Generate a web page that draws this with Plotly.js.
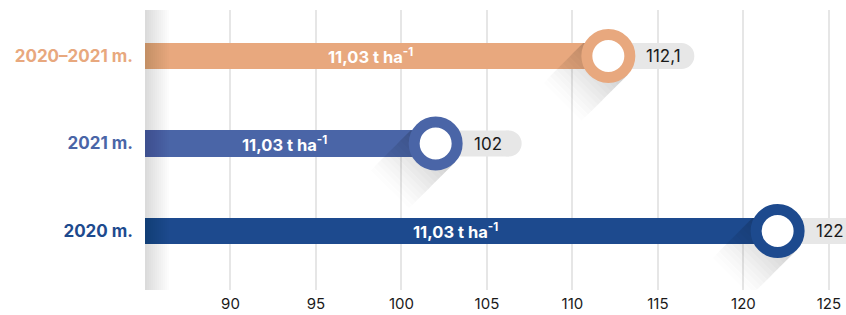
<!DOCTYPE html>
<html>
<head>
<meta charset="utf-8">
<script src="https://cdn.plot.ly/plotly-3.0.1.min.js"></script>
<style>html,body{margin:0;padding:0;background:#fff;}#chart{width:846px;height:315px;}</style>
</head>
<body>
<div id="chart"></div>
<script>
// ---- data ----
const categories = ['2020 m.', '2021 m.', '2020–2021 m.'];
const values = [122, 102, 112.1];
const valueLabels = ['122', '102', '112,1'];
const barLabels = ['11,03 t ha<sup>-1</sup>', '11,03 t ha<sup>-1</sup>', '11,03 t ha<sup>-1</sup>'];
const colors = ['#1D4A8E', '#4A65A7', '#E8A87E'];
const xTickVals = [90, 95, 100, 105, 110, 115, 120, 125];
const xRange = [85, 126];

const FONT = 'Inter, "Open Sans", sans-serif';

const traces = [{
  type: 'bar',
  orientation: 'h',
  y: categories,
  x: values,
  width: 0.3,
  marker: {color: colors},
  hoverinfo: 'skip'
}];

const shapes = [];

// left edge shadow (soft gradient)
for (let k = 1; k <= 12; k++) {
  shapes.push({
    type: 'rect', xref: 'x', yref: 'paper', xsizemode: 'pixel', xanchor: xRange[0],
    x0: 0, x1: k * 2, y0: 0.0, y1: 1.0,
    fillcolor: 'rgba(0,0,0,0.011)', line: {width: 0}, layer: 'above'
  });
}

// clip polygon to y <= lim
function clipTop(poly, lim) {
  const out = [];
  for (let i = 0; i < poly.length; i++) {
    const a = poly[i], b = poly[(i + 1) % poly.length];
    const ain = a[1] <= lim, bin = b[1] <= lim;
    if (ain) out.push(a);
    if (ain !== bin) {
      const t = (lim - a[1]) / (b[1] - a[1]);
      out.push([a[0] + t * (b[0] - a[0]), lim]);
    }
  }
  return out;
}
function pathOf(poly) {
  return 'M ' + poly.map(p => p[0].toFixed(2) + ',' + p[1].toFixed(2)).join(' L ') + ' Z';
}

values.forEach((v, i) => {
  // pill
  shapes.push({type: 'rect', xref: 'x', yref: 'y', xsizemode: 'pixel', ysizemode: 'pixel',
    xanchor: v, yanchor: i, x0: 0, x1: 73, y0: -13, y1: 13,
    fillcolor: '#E7E7E7', line: {width: 0}, layer: 'above'});
  shapes.push({type: 'circle', xref: 'x', yref: 'y', xsizemode: 'pixel', ysizemode: 'pixel',
    xanchor: v, yanchor: i, x0: 60, x1: 86, y0: -13, y1: 13,
    fillcolor: '#E7E7E7', line: {width: 0}, layer: 'above'});
  // long shadow
  const r = 27 / Math.SQRT2;
  const N = 14, L = 46;
  for (let k = 0; k < N; k++) {
    const a = L * k / N, b = L * (k + 1) / N;
    let poly = [[r - a, -r - a], [-r - a, r - a], [-r - b, r - b], [r - b, -r - b]];
    poly = clipTop(poly, 13);
    if (poly.length < 3) continue;
    shapes.push({type: 'path', xref: 'x', yref: 'y', xsizemode: 'pixel', ysizemode: 'pixel',
      xanchor: v, yanchor: i, path: pathOf(poly),
      fillcolor: 'rgba(0,0,0,' + (0.2 * Math.pow(1 - k / N, 1.3)).toFixed(3) + ')', line: {width: 0}, layer: 'above'});
  }
  // ring
  shapes.push({type: 'circle', xref: 'x', yref: 'y', xsizemode: 'pixel', ysizemode: 'pixel',
    xanchor: v, yanchor: i, x0: -21.5, x1: 21.5, y0: -21.5, y1: 21.5,
    fillcolor: '#FFFFFF', line: {width: 11, color: colors[i]}, layer: 'above'});
});

const annotations = [];
values.forEach((v, i) => {
  annotations.push({x: v, y: i, xref: 'x', yref: 'y', text: valueLabels[i], showarrow: false,
    xanchor: 'left', xshift: 36, font: {family: FONT, size: 17, color: '#1a1a1a'}});
  annotations.push({x: (xRange[0] + v) / 2, y: i, xref: 'x', yref: 'y', text: '<b>' + barLabels[i] + '</b>',
    showarrow: false, xanchor: 'center', xshift: -6, font: {family: FONT, size: 16.5, color: '#ffffff'}});
});

const layout = {
  width: 846, height: 315,
  margin: {l: 145, r: 0, t: 10, b: 25, pad: 0},
  paper_bgcolor: '#fff', plot_bgcolor: '#fff',
  showlegend: false,
  bargap: 0,
  xaxis: {
    range: xRange, tickvals: xTickVals, ticktext: xTickVals.map(String),
    showgrid: true, gridcolor: '#E6E6E6', gridwidth: 2, zeroline: false, showline: false,
    ticks: '', ticklabelstandoff: 3,
    tickfont: {family: FONT, size: 15, color: '#1a1a1a'}
  },
  yaxis: {
    type: 'category', categoryorder: 'array', categoryarray: categories,
    range: [-0.674, 2.526], showgrid: false, zeroline: false, showline: false, ticks: '',
    tickvals: categories,
    ticktext: categories.map((c, i) => '<b><span style="color:' + colors[i] + '">' + c + '</span></b>'),
    ticklabelstandoff: 11,
    tickfont: {family: FONT, size: 17}
  },
  shapes: shapes,
  annotations: annotations
};

Plotly.newPlot('chart', traces, layout, {displayModeBar: false, staticPlot: true});
</script>
</body>
</html>
